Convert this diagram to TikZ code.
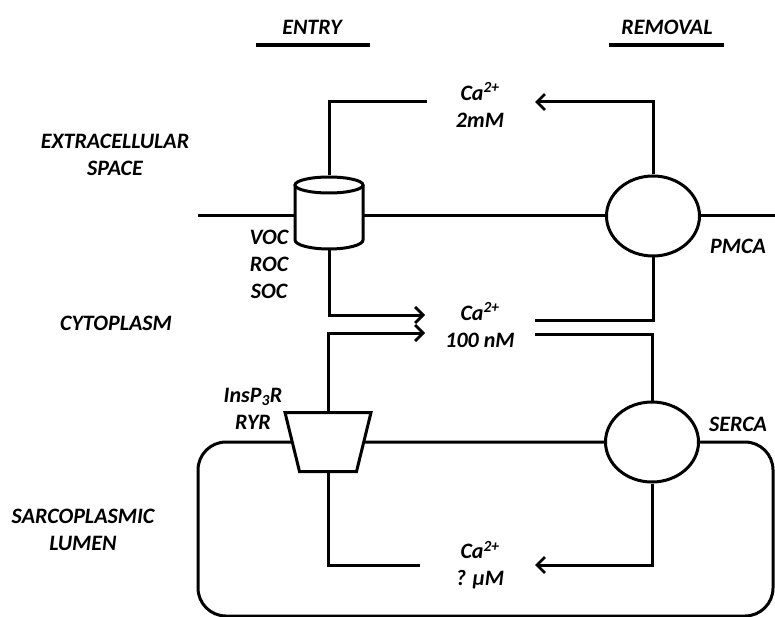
\documentclass[tikz,border=0pt]{standalone}
\usepackage{fontspec}
\setmainfont{Carlito}
\usetikzlibrary{arrows.meta,shapes.geometric}
\begin{document}
\begin{tikzpicture}[x=1pt,y=-1pt,line width=3pt,
  lbl/.style={font=\fontsize{22}{27}\selectfont\bfseries\itshape,align=center,inner sep=0pt},
  arr/.style={-{Straight Barb[length=8pt,width=16pt,line width=2.8pt]}},
  pump/.style={draw,fill=white,ellipse,minimum width=93pt,minimum height=80pt,inner sep=0pt},
  chan/.style={inner sep=0pt,draw=none}]
\useasboundingbox (0,0) rectangle (775,617);

% headings
\node[lbl] (entry) at (312,27) {ENTRY};
\node[lbl] (removal) at (667,27) {REMOVAL};
\coordinate (e1) at (256,45); \coordinate (e2) at (370,45);
\coordinate (r1) at (609,45); \coordinate (r2) at (724,45);
\draw[line width=4pt] (e1) -- (e2);
\draw[line width=4pt] (r1) -- (r2);

% region labels
\node[lbl] (extra) at (115,155) {EXTRACELLULAR\\SPACE};
\node[lbl] (cyto) at (116,323) {CYTOPLASM};
\node[lbl] (lumen) at (83,530) {SARCOPLASMIC\\LUMEN};

% membranes
\coordinate (pm1) at (198,216); \coordinate (pm2) at (775,216);
\draw (pm1) -- (pm2);
\draw[rounded corners=28pt] (198,442) rectangle (773,616);

% channels / pumps
\node[pump] (pmca) at (653,216) {};
\node[pump] (serca) at (652,442) {};
\node[chan,minimum width=68pt,minimum height=72pt] (voc) at (329,213) {};
\fill[white] (295,185) -- (295,240) arc[start angle=180,end angle=0,x radius=34,y radius=9] -- (363,185) -- cycle;
\draw (295,185) -- (295,240) arc[start angle=180,end angle=0,x radius=34,y radius=9] -- (363,185);
\draw[fill=white] (329,185) ellipse [x radius=34,y radius=8];
\node[chan,minimum width=83pt,minimum height=56pt] (ryr) at (328,442) {};
\draw[fill=white,line join=miter] (ryr.north west) -- (ryr.north east) -- ([xshift=-14.5pt]ryr.south east) -- ([xshift=14.5pt]ryr.south west) -- cycle;

% labels of channels
\node[lbl] (vocl) at (269,264) {VOC\\ROC\\SOC};
\node[lbl] (ryrl) at (253,409) {InsP\textsubscript{3}R\\RYR};
\node[lbl] (pmcal) at (738,246) {PMCA};
\node[lbl] (sercal) at (738,424) {SERCA};

% calcium pools
\node[lbl] (caext) at (480,105) {Ca\textsuperscript{2+}\\2mM};
\node[lbl] (cacyt) at (480,325) {Ca\textsuperscript{2+}\\100 nM};
\node[lbl] (calum) at (480,565) {Ca\textsuperscript{2+}\\? µM};

% fluxes
\coordinate (t1) at (427,102); \coordinate (t2) at (535,102);
\coordinate (m1) at (425,315); \coordinate (m2) at (535,320);
\coordinate (m3) at (425,333); \coordinate (m4) at (535,334);
\coordinate (b1) at (420,565); \coordinate (b2) at (535,565);
\draw (voc.north) |- (t1);
\draw[arr] (pmca.north) |- (t2);
\draw[arr] (voc.south) |- (m1);
\draw (pmca.south) |- (m2);
\draw[arr] (ryr.north) |- (m3);
\draw (serca.north) |- (m4);
\draw (ryr.south) |- (b1);
\draw[arr] (serca.south) |- (b2);
\end{tikzpicture}
\end{document}
